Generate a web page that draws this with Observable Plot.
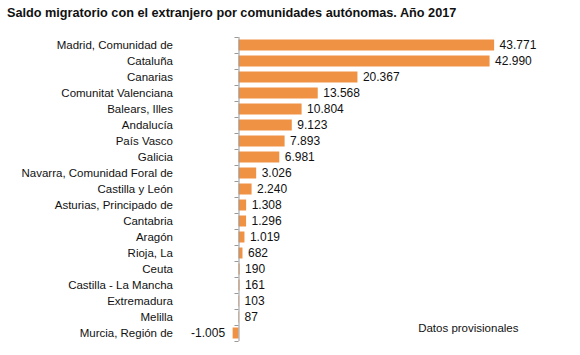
<!DOCTYPE html>
<html><head><meta charset="utf-8">
<script src="https://cdn.jsdelivr.net/npm/d3@7"></script>
<script src="https://cdn.jsdelivr.net/npm/@observablehq/plot@0.6"></script>
<style>
body{margin:0;background:#fff;font-family:"Liberation Sans",Arial,sans-serif;}
#title{height:30px;box-sizing:border-box;padding:6px 0 0 7px;font-weight:bold;font-size:12.7px;color:#111;white-space:nowrap;}
</style></head>
<body>
<div id="title">Saldo migratorio con el extranjero por comunidades autónomas. Año 2017</div>
<div id="chart"></div>
<script>
const regions = ["Madrid, Comunidad de","Cataluña","Canarias","Comunitat Valenciana","Balears, Illes","Andalucía","País Vasco","Galicia","Navarra, Comunidad Foral de","Castilla y León","Asturias, Principado de","Cantabria","Aragón","Rioja, La","Ceuta","Castilla - La Mancha","Extremadura","Melilla","Murcia, Región de"];
const values = [43771,42990,20367,13568,10804,9123,7893,6981,3026,2240,1308,1296,1019,682,190,161,103,87,-1005];
const note = "Datos provisionales";

const data = regions.map((r,i)=>({region:r, value:values[i]}));
const loc = d3.formatLocale({decimal:",", thousands:".", grouping:[3], currency:["","€"], minus:"-"});
const fmt = loc.format(",d");
const orange = "#EF9244";
const axisColor = "#999";

const chart = Plot.plot({
  width: 580, height: 325,
  marginTop: 7, marginBottom: 14, marginLeft: 238.5, marginRight: 49.5,
  style: {fontFamily: "'Liberation Sans', Arial, sans-serif", fontSize: "11.5px", color: "#111", background: "#fff"},
  x: {domain: [0, 50000], axis: null},
  y: {domain: regions, padding: 0, axis: null, label: null},
  marks: [
    Plot.barX(data, {y: "region", x: "value", fill: orange, insetTop: 2.5, insetBottom: 2.5}),
    Plot.ruleX([0], {stroke: axisColor, strokeWidth: 1}),
    Plot.axisY({anchor: "left", tickSize: 0, tickPadding: 66, fontSize: 11.5, fill: "#111", label: null}),
    Plot.axisY({anchor: "left", tickSize: 4, text: null, dy: -8, stroke: axisColor, label: null}),
    Plot.axisY({anchor: "left", tickSize: 4, text: null, dy: 8, stroke: axisColor, label: null, ticks: [regions[regions.length-1]]}),
    Plot.text(data, {y: "region", x: "value", text: d => fmt(d.value), textAnchor: "start", fill: "#111", fontSize: 12,
      filter: d => d.value >= 0, dx: 5}),
    Plot.text(data, {y: "region", x: "value", text: d => fmt(d.value), textAnchor: "end", fill: "#111", fontSize: 12,
      filter: d => d.value < 0, dx: -8}),
    Plot.text([note], {frameAnchor: "bottom-right", textAnchor: "end", dx: -12.5, dy: -10, fill: "#111", fontSize: 11.5})
  ]
});
document.getElementById("chart").appendChild(chart);
</script>
</body></html>
